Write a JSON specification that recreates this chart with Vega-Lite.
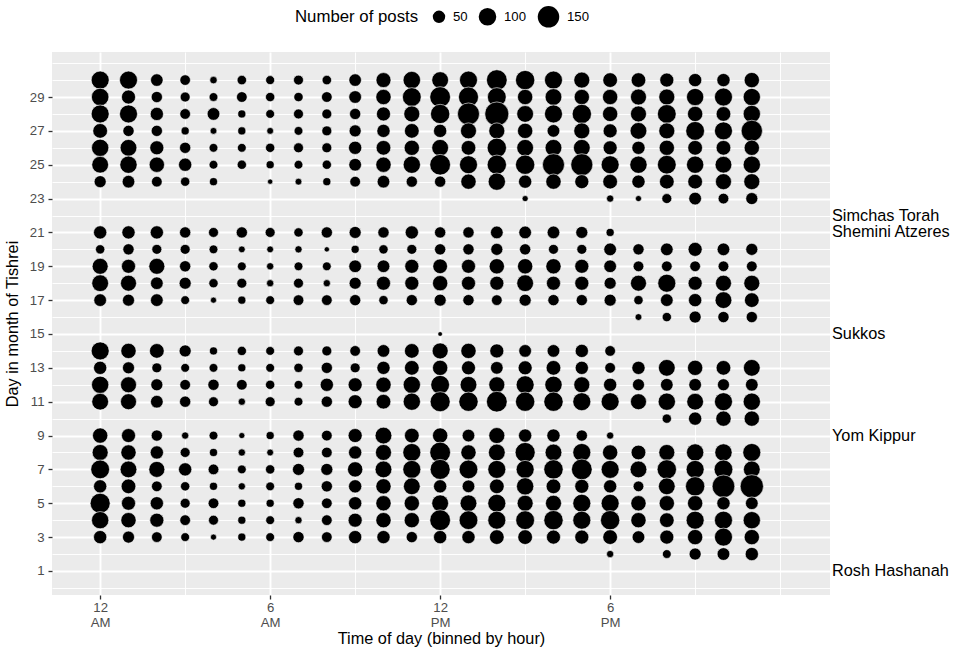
{
"$schema": "https://vega.github.io/schema/vega-lite/v6.json",
"width": 778,
"height": 543,
"autosize": {"type": "none"},
"padding": {"left": 52, "top": 52, "right": 127, "bottom": 61},
"background": "white",
"config": {
  "font": "Liberation Sans",
  "view": {"fill": "#EBEBEB", "stroke": null},
  "axis": {"domain": false, "gridColor": "white", "gridOpacity": 1, "tickColor": "#333333", "tickWidth": 1.3, "tickSize": 4,
    "labelFont": "Liberation Sans", "labelFontSize": 13.2, "labelColor": "#4D4D4D",
    "titleFont": "Liberation Sans", "titleFontSize": 16.3, "titleColor": "black", "titleFontWeight": "normal"}
},
"encoding": {
  "y": {"field": "day", "type": "quantitative",
    "scale": {"domain": [-0.42, 31.66], "nice": false, "zero": false},
    "axis": {"title": "Day in month of Tishrei",
      "values": [0,1,2,3,4,5,6,7,8,9,10,11,12,13,14,15,16,17,18,19,20,21,22,23,24,25,26,27,28,29,30,31],
      "labelExpr": "datum.value % 2 === 1 && datum.value < 30 ? datum.label : ''",
      "gridWidth": {"condition": {"test": "datum.value % 2 === 1 && datum.value < 30", "value": 1.9}, "value": 0.95},
      "tickOpacity": {"condition": {"test": "datum.value % 2 === 1 && datum.value < 30", "value": 1}, "value": 0},
      "labelPadding": 4, "titlePadding": 9, "labelOverlap": false}}
},
"layer": [
  {
    "data": {"values": [
{"hour":0,"day":30,"posts":105},{"hour":1,"day":30,"posts":105},{"hour":2,"day":30,"posts":51},{"hour":3,"day":30,"posts":36},{"hour":4,"day":30,"posts":18},{"hour":5,"day":30,"posts":29},{"hour":6,"day":30,"posts":26},{"hour":7,"day":30,"posts":32},{"hour":8,"day":30,"posts":29},{"hour":9,"day":30,"posts":51},{"hour":10,"day":30,"posts":73},{"hour":11,"day":30,"posts":99},{"hour":12,"day":30,"posts":91},{"hour":13,"day":30,"posts":105},{"hour":14,"day":30,"posts":139},{"hour":15,"day":30,"posts":121},{"hour":16,"day":30,"posts":105},{"hour":17,"day":30,"posts":83},{"hour":18,"day":30,"posts":70},{"hour":19,"day":30,"posts":70},{"hour":20,"day":30,"posts":64},{"hour":21,"day":30,"posts":57},{"hour":22,"day":30,"posts":57},{"hour":23,"day":30,"posts":76},
{"hour":0,"day":29,"posts":99},{"hour":1,"day":29,"posts":64},{"hour":2,"day":29,"posts":41},{"hour":3,"day":29,"posts":32},{"hour":4,"day":29,"posts":25},{"hour":5,"day":29,"posts":37},{"hour":6,"day":29,"posts":28},{"hour":7,"day":29,"posts":28},{"hour":8,"day":29,"posts":37},{"hour":9,"day":29,"posts":52},{"hour":10,"day":29,"posts":76},{"hour":11,"day":29,"posts":114},{"hour":12,"day":29,"posts":139},{"hour":13,"day":29,"posts":130},{"hour":14,"day":29,"posts":114},{"hour":15,"day":29,"posts":76},{"hour":16,"day":29,"posts":91},{"hour":17,"day":29,"posts":76},{"hour":18,"day":29,"posts":76},{"hour":19,"day":29,"posts":83},{"hour":20,"day":29,"posts":83},{"hour":21,"day":29,"posts":97},{"hour":22,"day":29,"posts":105},{"hour":23,"day":29,"posts":97},
{"hour":0,"day":28,"posts":105},{"hour":1,"day":28,"posts":105},{"hour":2,"day":28,"posts":57},{"hour":3,"day":28,"posts":37},{"hour":4,"day":28,"posts":52},{"hour":5,"day":28,"posts":21},{"hour":6,"day":28,"posts":25},{"hour":7,"day":28,"posts":32},{"hour":8,"day":28,"posts":32},{"hour":9,"day":28,"posts":41},{"hour":10,"day":28,"posts":64},{"hour":11,"day":28,"posts":83},{"hour":12,"day":28,"posts":121},{"hour":13,"day":28,"posts":157},{"hour":14,"day":28,"posts":187},{"hour":15,"day":28,"posts":91},{"hour":16,"day":28,"posts":105},{"hour":17,"day":28,"posts":121},{"hour":18,"day":28,"posts":76},{"hour":19,"day":28,"posts":83},{"hour":20,"day":28,"posts":114},{"hour":21,"day":28,"posts":76},{"hour":22,"day":28,"posts":70},{"hour":23,"day":28,"posts":97},
{"hour":0,"day":27,"posts":70},{"hour":1,"day":27,"posts":41},{"hour":2,"day":27,"posts":41},{"hour":3,"day":27,"posts":21},{"hour":4,"day":27,"posts":15},{"hour":5,"day":27,"posts":21},{"hour":6,"day":27,"posts":15},{"hour":7,"day":27,"posts":25},{"hour":8,"day":27,"posts":32},{"hour":9,"day":27,"posts":47},{"hour":10,"day":27,"posts":57},{"hour":11,"day":27,"posts":70},{"hour":12,"day":27,"posts":57},{"hour":13,"day":27,"posts":83},{"hour":14,"day":27,"posts":83},{"hour":15,"day":27,"posts":76},{"hour":16,"day":27,"posts":52},{"hour":17,"day":27,"posts":83},{"hour":18,"day":27,"posts":64},{"hour":19,"day":27,"posts":91},{"hour":20,"day":27,"posts":83},{"hour":21,"day":27,"posts":114},{"hour":22,"day":27,"posts":105},{"hour":23,"day":27,"posts":147},
{"hour":0,"day":26,"posts":97},{"hour":1,"day":26,"posts":91},{"hour":2,"day":26,"posts":64},{"hour":3,"day":26,"posts":41},{"hour":4,"day":26,"posts":25},{"hour":5,"day":26,"posts":25},{"hour":6,"day":26,"posts":28},{"hour":7,"day":26,"posts":32},{"hour":8,"day":26,"posts":32},{"hour":9,"day":26,"posts":57},{"hour":10,"day":26,"posts":70},{"hour":11,"day":26,"posts":76},{"hour":12,"day":26,"posts":91},{"hour":13,"day":26,"posts":70},{"hour":14,"day":26,"posts":121},{"hour":15,"day":26,"posts":91},{"hour":16,"day":26,"posts":91},{"hour":17,"day":26,"posts":91},{"hour":18,"day":26,"posts":64},{"hour":19,"day":26,"posts":57},{"hour":20,"day":26,"posts":76},{"hour":21,"day":26,"posts":70},{"hour":22,"day":26,"posts":70},{"hour":23,"day":26,"posts":76},
{"hour":0,"day":25,"posts":91},{"hour":1,"day":25,"posts":97},{"hour":2,"day":25,"posts":76},{"hour":3,"day":25,"posts":57},{"hour":4,"day":25,"posts":25},{"hour":5,"day":25,"posts":28},{"hour":6,"day":25,"posts":21},{"hour":7,"day":25,"posts":25},{"hour":8,"day":25,"posts":28},{"hour":9,"day":25,"posts":52},{"hour":10,"day":25,"posts":76},{"hour":11,"day":25,"posts":97},{"hour":12,"day":25,"posts":139},{"hour":13,"day":25,"posts":105},{"hour":14,"day":25,"posts":121},{"hour":15,"day":25,"posts":121},{"hour":16,"day":25,"posts":157},{"hour":17,"day":25,"posts":157},{"hour":18,"day":25,"posts":105},{"hour":19,"day":25,"posts":97},{"hour":20,"day":25,"posts":114},{"hour":21,"day":25,"posts":97},{"hour":22,"day":25,"posts":91},{"hour":23,"day":25,"posts":97},
{"hour":0,"day":24,"posts":47},{"hour":1,"day":24,"posts":52},{"hour":2,"day":24,"posts":37},{"hour":3,"day":24,"posts":28},{"hour":4,"day":24,"posts":21},{"hour":6,"day":24,"posts":9},{"hour":7,"day":24,"posts":15},{"hour":8,"day":24,"posts":21},{"hour":9,"day":24,"posts":37},{"hour":10,"day":24,"posts":52},{"hour":11,"day":24,"posts":41},{"hour":12,"day":24,"posts":41},{"hour":13,"day":24,"posts":76},{"hour":14,"day":24,"posts":97},{"hour":15,"day":24,"posts":57},{"hour":16,"day":24,"posts":76},{"hour":17,"day":24,"posts":64},{"hour":18,"day":24,"posts":70},{"hour":19,"day":24,"posts":57},{"hour":20,"day":24,"posts":70},{"hour":21,"day":24,"posts":70},{"hour":22,"day":24,"posts":83},{"hour":23,"day":24,"posts":83},
{"hour":15,"day":23,"posts":12},{"hour":18,"day":23,"posts":17},{"hour":19,"day":23,"posts":12},{"hour":20,"day":23,"posts":32},{"hour":21,"day":23,"posts":52},{"hour":22,"day":23,"posts":37},{"hour":23,"day":23,"posts":47},
{"hour":0,"day":21,"posts":57},{"hour":1,"day":21,"posts":57},{"hour":2,"day":21,"posts":57},{"hour":3,"day":21,"posts":41},{"hour":4,"day":21,"posts":32},{"hour":5,"day":21,"posts":41},{"hour":6,"day":21,"posts":32},{"hour":7,"day":21,"posts":28},{"hour":8,"day":21,"posts":41},{"hour":9,"day":21,"posts":47},{"hour":10,"day":21,"posts":41},{"hour":11,"day":21,"posts":57},{"hour":12,"day":21,"posts":41},{"hour":13,"day":21,"posts":41},{"hour":14,"day":21,"posts":52},{"hour":15,"day":21,"posts":52},{"hour":16,"day":21,"posts":52},{"hour":17,"day":21,"posts":47},{"hour":18,"day":21,"posts":21},
{"hour":0,"day":20,"posts":28},{"hour":1,"day":20,"posts":41},{"hour":2,"day":20,"posts":32},{"hour":3,"day":20,"posts":32},{"hour":4,"day":20,"posts":25},{"hour":5,"day":20,"posts":15},{"hour":6,"day":20,"posts":15},{"hour":7,"day":20,"posts":17},{"hour":8,"day":20,"posts":9},{"hour":9,"day":20,"posts":21},{"hour":10,"day":20,"posts":28},{"hour":11,"day":20,"posts":32},{"hour":12,"day":20,"posts":41},{"hour":13,"day":20,"posts":41},{"hour":14,"day":20,"posts":47},{"hour":15,"day":20,"posts":41},{"hour":16,"day":20,"posts":32},{"hour":17,"day":20,"posts":32},{"hour":18,"day":20,"posts":52},{"hour":19,"day":20,"posts":41},{"hour":20,"day":20,"posts":52},{"hour":21,"day":20,"posts":64},{"hour":22,"day":20,"posts":52},{"hour":23,"day":20,"posts":47},
{"hour":0,"day":19,"posts":83},{"hour":1,"day":19,"posts":64},{"hour":2,"day":19,"posts":83},{"hour":3,"day":19,"posts":41},{"hour":4,"day":19,"posts":28},{"hour":5,"day":19,"posts":25},{"hour":6,"day":19,"posts":17},{"hour":7,"day":19,"posts":25},{"hour":8,"day":19,"posts":25},{"hour":9,"day":19,"posts":52},{"hour":10,"day":19,"posts":52},{"hour":11,"day":19,"posts":64},{"hour":12,"day":19,"posts":70},{"hour":13,"day":19,"posts":64},{"hour":14,"day":19,"posts":76},{"hour":15,"day":19,"posts":76},{"hour":16,"day":19,"posts":76},{"hour":17,"day":19,"posts":64},{"hour":18,"day":19,"posts":52},{"hour":19,"day":19,"posts":37},{"hour":20,"day":19,"posts":37},{"hour":21,"day":19,"posts":37},{"hour":22,"day":19,"posts":37},{"hour":23,"day":19,"posts":37},
{"hour":0,"day":18,"posts":91},{"hour":1,"day":18,"posts":83},{"hour":2,"day":18,"posts":52},{"hour":3,"day":18,"posts":47},{"hour":4,"day":18,"posts":28},{"hour":5,"day":18,"posts":32},{"hour":6,"day":18,"posts":17},{"hour":7,"day":18,"posts":32},{"hour":8,"day":18,"posts":17},{"hour":9,"day":18,"posts":47},{"hour":10,"day":18,"posts":64},{"hour":11,"day":18,"posts":64},{"hour":12,"day":18,"posts":76},{"hour":13,"day":18,"posts":64},{"hour":14,"day":18,"posts":64},{"hour":15,"day":18,"posts":91},{"hour":16,"day":18,"posts":64},{"hour":17,"day":18,"posts":64},{"hour":18,"day":18,"posts":47},{"hour":19,"day":18,"posts":83},{"hour":20,"day":18,"posts":105},{"hour":21,"day":18,"posts":64},{"hour":22,"day":18,"posts":83},{"hour":23,"day":18,"posts":83},
{"hour":0,"day":17,"posts":52},{"hour":1,"day":17,"posts":47},{"hour":2,"day":17,"posts":52},{"hour":3,"day":17,"posts":25},{"hour":4,"day":17,"posts":12},{"hour":5,"day":17,"posts":21},{"hour":6,"day":17,"posts":25},{"hour":7,"day":17,"posts":37},{"hour":8,"day":17,"posts":37},{"hour":9,"day":17,"posts":41},{"hour":10,"day":17,"posts":28},{"hour":11,"day":17,"posts":41},{"hour":12,"day":17,"posts":47},{"hour":13,"day":17,"posts":41},{"hour":14,"day":17,"posts":37},{"hour":15,"day":17,"posts":47},{"hour":16,"day":17,"posts":41},{"hour":17,"day":17,"posts":41},{"hour":18,"day":17,"posts":47},{"hour":19,"day":17,"posts":28},{"hour":20,"day":17,"posts":52},{"hour":21,"day":17,"posts":57},{"hour":22,"day":17,"posts":91},{"hour":23,"day":17,"posts":70},
{"hour":19,"day":16,"posts":15},{"hour":20,"day":16,"posts":28},{"hour":21,"day":16,"posts":47},{"hour":22,"day":16,"posts":41},{"hour":23,"day":16,"posts":41},
{"hour":12,"day":15,"posts":7},
{"hour":0,"day":14,"posts":105},{"hour":1,"day":14,"posts":76},{"hour":2,"day":14,"posts":70},{"hour":3,"day":14,"posts":47},{"hour":4,"day":14,"posts":21},{"hour":5,"day":14,"posts":28},{"hour":6,"day":14,"posts":25},{"hour":7,"day":14,"posts":32},{"hour":8,"day":14,"posts":32},{"hour":9,"day":14,"posts":37},{"hour":10,"day":14,"posts":52},{"hour":11,"day":14,"posts":70},{"hour":12,"day":14,"posts":83},{"hour":13,"day":14,"posts":76},{"hour":14,"day":14,"posts":64},{"hour":15,"day":14,"posts":52},{"hour":16,"day":14,"posts":52},{"hour":17,"day":14,"posts":57},{"hour":18,"day":14,"posts":37},
{"hour":0,"day":13,"posts":57},{"hour":1,"day":13,"posts":47},{"hour":2,"day":13,"posts":32},{"hour":3,"day":13,"posts":25},{"hour":4,"day":13,"posts":25},{"hour":5,"day":13,"posts":21},{"hour":6,"day":13,"posts":25},{"hour":7,"day":13,"posts":28},{"hour":8,"day":13,"posts":41},{"hour":9,"day":13,"posts":32},{"hour":10,"day":13,"posts":57},{"hour":11,"day":13,"posts":70},{"hour":12,"day":13,"posts":76},{"hour":13,"day":13,"posts":64},{"hour":14,"day":13,"posts":52},{"hour":15,"day":13,"posts":64},{"hour":16,"day":13,"posts":70},{"hour":17,"day":13,"posts":57},{"hour":18,"day":13,"posts":37},{"hour":19,"day":13,"posts":57},{"hour":20,"day":13,"posts":91},{"hour":21,"day":13,"posts":76},{"hour":22,"day":13,"posts":70},{"hour":23,"day":13,"posts":91},
{"hour":0,"day":12,"posts":97},{"hour":1,"day":12,"posts":83},{"hour":2,"day":12,"posts":47},{"hour":3,"day":12,"posts":37},{"hour":4,"day":12,"posts":41},{"hour":5,"day":12,"posts":37},{"hour":6,"day":12,"posts":28},{"hour":7,"day":12,"posts":25},{"hour":8,"day":12,"posts":57},{"hour":9,"day":12,"posts":64},{"hour":10,"day":12,"posts":76},{"hour":11,"day":12,"posts":97},{"hour":12,"day":12,"posts":114},{"hour":13,"day":12,"posts":91},{"hour":14,"day":12,"posts":83},{"hour":15,"day":12,"posts":105},{"hour":16,"day":12,"posts":97},{"hour":17,"day":12,"posts":83},{"hour":18,"day":12,"posts":57},{"hour":19,"day":12,"posts":47},{"hour":20,"day":12,"posts":52},{"hour":21,"day":12,"posts":52},{"hour":22,"day":12,"posts":47},{"hour":23,"day":12,"posts":52},
{"hour":0,"day":11,"posts":91},{"hour":1,"day":11,"posts":83},{"hour":2,"day":11,"posts":52},{"hour":3,"day":11,"posts":41},{"hour":4,"day":11,"posts":32},{"hour":5,"day":11,"posts":17},{"hour":6,"day":11,"posts":32},{"hour":7,"day":11,"posts":25},{"hour":8,"day":11,"posts":41},{"hour":9,"day":11,"posts":64},{"hour":10,"day":11,"posts":70},{"hour":11,"day":11,"posts":97},{"hour":12,"day":11,"posts":130},{"hour":13,"day":11,"posts":121},{"hour":14,"day":11,"posts":139},{"hour":15,"day":11,"posts":121},{"hour":16,"day":11,"posts":121},{"hour":17,"day":11,"posts":105},{"hour":18,"day":11,"posts":105},{"hour":19,"day":11,"posts":83},{"hour":20,"day":11,"posts":97},{"hour":21,"day":11,"posts":91},{"hour":22,"day":11,"posts":105},{"hour":23,"day":11,"posts":97},
{"hour":20,"day":10,"posts":28},{"hour":21,"day":10,"posts":57},{"hour":22,"day":10,"posts":76},{"hour":23,"day":10,"posts":76},
{"hour":0,"day":9,"posts":76},{"hour":1,"day":9,"posts":64},{"hour":2,"day":9,"posts":41},{"hour":3,"day":9,"posts":17},{"hour":4,"day":9,"posts":25},{"hour":5,"day":9,"posts":12},{"hour":6,"day":9,"posts":21},{"hour":7,"day":9,"posts":41},{"hour":8,"day":9,"posts":37},{"hour":9,"day":9,"posts":64},{"hour":10,"day":9,"posts":91},{"hour":11,"day":9,"posts":70},{"hour":12,"day":9,"posts":76},{"hour":13,"day":9,"posts":52},{"hour":14,"day":9,"posts":83},{"hour":15,"day":9,"posts":57},{"hour":16,"day":9,"posts":57},{"hour":17,"day":9,"posts":41},{"hour":18,"day":9,"posts":17},
{"hour":0,"day":8,"posts":83},{"hour":1,"day":8,"posts":76},{"hour":2,"day":8,"posts":57},{"hour":3,"day":8,"posts":32},{"hour":4,"day":8,"posts":21},{"hour":5,"day":8,"posts":17},{"hour":6,"day":8,"posts":15},{"hour":7,"day":8,"posts":37},{"hour":8,"day":8,"posts":37},{"hour":9,"day":8,"posts":57},{"hour":10,"day":8,"posts":83},{"hour":11,"day":8,"posts":105},{"hour":12,"day":8,"posts":139},{"hour":13,"day":8,"posts":76},{"hour":14,"day":8,"posts":91},{"hour":15,"day":8,"posts":130},{"hour":16,"day":8,"posts":91},{"hour":17,"day":8,"posts":105},{"hour":18,"day":8,"posts":76},{"hour":19,"day":8,"posts":70},{"hour":20,"day":8,"posts":83},{"hour":21,"day":8,"posts":97},{"hour":22,"day":8,"posts":97},{"hour":23,"day":8,"posts":105},
{"hour":0,"day":7,"posts":114},{"hour":1,"day":7,"posts":91},{"hour":2,"day":7,"posts":83},{"hour":3,"day":7,"posts":57},{"hour":4,"day":7,"posts":37},{"hour":5,"day":7,"posts":25},{"hour":6,"day":7,"posts":28},{"hour":7,"day":7,"posts":47},{"hour":8,"day":7,"posts":47},{"hour":9,"day":7,"posts":76},{"hour":10,"day":7,"posts":91},{"hour":11,"day":7,"posts":105},{"hour":12,"day":7,"posts":130},{"hour":13,"day":7,"posts":114},{"hour":14,"day":7,"posts":105},{"hour":15,"day":7,"posts":105},{"hour":16,"day":7,"posts":121},{"hour":17,"day":7,"posts":139},{"hour":18,"day":7,"posts":105},{"hour":19,"day":7,"posts":91},{"hour":20,"day":7,"posts":121},{"hour":21,"day":7,"posts":105},{"hour":22,"day":7,"posts":114},{"hour":23,"day":7,"posts":91},
{"hour":0,"day":6,"posts":57},{"hour":1,"day":6,"posts":70},{"hour":2,"day":6,"posts":37},{"hour":3,"day":6,"posts":28},{"hour":4,"day":6,"posts":21},{"hour":5,"day":6,"posts":17},{"hour":6,"day":6,"posts":25},{"hour":7,"day":6,"posts":21},{"hour":8,"day":6,"posts":41},{"hour":9,"day":6,"posts":57},{"hour":10,"day":6,"posts":76},{"hour":11,"day":6,"posts":91},{"hour":12,"day":6,"posts":57},{"hour":13,"day":6,"posts":52},{"hour":14,"day":6,"posts":70},{"hour":15,"day":6,"posts":97},{"hour":16,"day":6,"posts":70},{"hour":17,"day":6,"posts":64},{"hour":18,"day":6,"posts":57},{"hour":19,"day":6,"posts":37},{"hour":20,"day":6,"posts":91},{"hour":21,"day":6,"posts":121},{"hour":22,"day":6,"posts":167},{"hour":23,"day":6,"posts":176},
{"hour":0,"day":5,"posts":130},{"hour":1,"day":5,"posts":64},{"hour":2,"day":5,"posts":57},{"hour":3,"day":5,"posts":32},{"hour":4,"day":5,"posts":37},{"hour":5,"day":5,"posts":21},{"hour":6,"day":5,"posts":21},{"hour":7,"day":5,"posts":41},{"hour":8,"day":5,"posts":37},{"hour":9,"day":5,"posts":57},{"hour":10,"day":5,"posts":76},{"hour":11,"day":5,"posts":76},{"hour":12,"day":5,"posts":91},{"hour":13,"day":5,"posts":91},{"hour":14,"day":5,"posts":105},{"hour":15,"day":5,"posts":83},{"hour":16,"day":5,"posts":83},{"hour":17,"day":5,"posts":105},{"hour":18,"day":5,"posts":105},{"hour":19,"day":5,"posts":76},{"hour":20,"day":5,"posts":76},{"hour":21,"day":5,"posts":76},{"hour":22,"day":5,"posts":57},{"hour":23,"day":5,"posts":52},
{"hour":0,"day":4,"posts":97},{"hour":1,"day":4,"posts":76},{"hour":2,"day":4,"posts":64},{"hour":3,"day":4,"posts":37},{"hour":4,"day":4,"posts":32},{"hour":5,"day":4,"posts":21},{"hour":6,"day":4,"posts":25},{"hour":7,"day":4,"posts":17},{"hour":8,"day":4,"posts":37},{"hour":9,"day":4,"posts":64},{"hour":10,"day":4,"posts":76},{"hour":11,"day":4,"posts":76},{"hour":12,"day":4,"posts":139},{"hour":13,"day":4,"posts":114},{"hour":14,"day":4,"posts":105},{"hour":15,"day":4,"posts":114},{"hour":16,"day":4,"posts":121},{"hour":17,"day":4,"posts":105},{"hour":18,"day":4,"posts":121},{"hour":19,"day":4,"posts":76},{"hour":20,"day":4,"posts":70},{"hour":21,"day":4,"posts":105},{"hour":22,"day":4,"posts":105},{"hour":23,"day":4,"posts":97},
{"hour":0,"day":3,"posts":57},{"hour":1,"day":3,"posts":47},{"hour":2,"day":3,"posts":37},{"hour":3,"day":3,"posts":25},{"hour":4,"day":3,"posts":12},{"hour":5,"day":3,"posts":21},{"hour":6,"day":3,"posts":25},{"hour":7,"day":3,"posts":41},{"hour":8,"day":3,"posts":37},{"hour":9,"day":3,"posts":57},{"hour":10,"day":3,"posts":57},{"hour":11,"day":3,"posts":41},{"hour":12,"day":3,"posts":57},{"hour":13,"day":3,"posts":57},{"hour":14,"day":3,"posts":70},{"hour":15,"day":3,"posts":70},{"hour":16,"day":3,"posts":64},{"hour":17,"day":3,"posts":64},{"hour":18,"day":3,"posts":70},{"hour":19,"day":3,"posts":52},{"hour":20,"day":3,"posts":64},{"hour":21,"day":3,"posts":76},{"hour":22,"day":3,"posts":105},{"hour":23,"day":3,"posts":76},
{"hour":18,"day":2,"posts":17},{"hour":20,"day":2,"posts":25},{"hour":21,"day":2,"posts":47},{"hour":22,"day":2,"posts":52},{"hour":23,"day":2,"posts":57}
    ]},
    "mark": {"type": "circle", "color": "black", "opacity": 1, "stroke": "white", "strokeWidth": 0.6},
    "encoding": {
      "x": {"field": "hour", "type": "quantitative",
        "scale": {"domain": [-1.7, 25.76], "nice": false, "zero": false},
        "axis": {"title": "Time of day (binned by hour)",
          "values": [0,3,6,9,12,15,18,21,24],
          "labelExpr": "datum.value === 0 ? ['12','AM'] : datum.value === 6 ? ['6','AM'] : datum.value === 12 ? ['12','PM'] : datum.value === 18 ? ['6','PM'] : ''",
          "gridWidth": {"condition": {"test": "datum.value % 6 === 0 && datum.value < 24", "value": 1.9}, "value": 0.95},
          "tickOpacity": {"condition": {"test": "datum.value % 6 === 0 && datum.value < 24", "value": 1}, "value": 0},
          "labelPadding": 2, "labelLineHeight": 15.5, "titlePadding": 2, "labelOverlap": false, "labelFlush": false}},
      "size": {"field": "posts", "type": "quantitative",
        "scale": {"type": "linear", "zero": true, "domain": [0, 150], "range": [0, 462]},
        "legend": {"title": "Number of posts", "orient": "none", "legendX": 243, "legendY": -47,
          "direction": "horizontal", "titleOrient": "left", "values": [50, 100, 150],
          "titleFontSize": 16.8, "titleFontWeight": "normal", "titleColor": "black", "titleFont": "Liberation Sans",
          "labelFontSize": 13.2, "labelColor": "black", "labelFont": "Liberation Sans",
          "symbolFillColor": "black", "symbolStrokeColor": "white", "symbolStrokeWidth": 0.6, "symbolOpacity": 1, "symbolType": "circle",
          "labelOffset": 7, "columnPadding": 9, "titlePadding": 13, "padding": 0}}
    }
  },
  {
    "data": {"values": [
      {"day": 1, "holiday": "Rosh Hashanah"},
      {"day": 9, "holiday": "Yom Kippur"},
      {"day": 15, "holiday": "Sukkos"},
      {"day": 21, "holiday": "Shemini Atzeres"},
      {"day": 22, "holiday": "Simchas Torah"}
    ]},
    "mark": {"type": "text", "align": "left", "baseline": "middle", "dx": 2, "fontSize": 16.3, "font": "Liberation Sans", "color": "black"},
    "encoding": {
      "x": {"value": "width"},
      "text": {"field": "holiday", "type": "nominal"}
    }
  }
]
}
